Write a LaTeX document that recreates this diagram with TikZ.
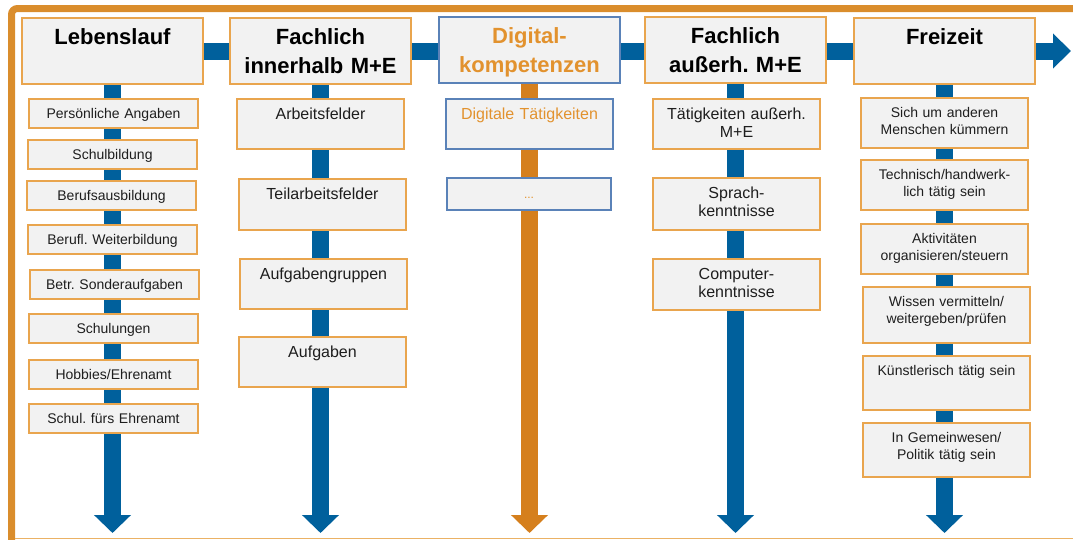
\documentclass[tikz,border=0pt]{standalone}
\usepackage{fontspec}
\setmainfont{Liberation Sans}
\usetikzlibrary{arrows.meta}
\usetikzlibrary{backgrounds}
\definecolor{barblue}{HTML}{00609C}
\definecolor{barorange}{HTML}{D57F1D}
\definecolor{frameorange}{HTML}{DA8D2C}
\definecolor{lineorange}{HTML}{EBB265}
\definecolor{boxorange}{HTML}{E9A54E}
\definecolor{boxgray}{HTML}{F2F2F2}
\definecolor{digblue}{HTML}{5A82B8}
\definecolor{digorange}{HTML}{E2922E}
\definecolor{txtgray}{HTML}{1E1E1E}
\newcommand{\hdfont}{\fontsize{22}{29}\selectfont\bfseries}
\newcommand{\mdfont}{\fontsize{16}{18.5}\selectfont}
\newcommand{\smfont}{\fontsize{14}{17}\selectfont}
\newcommand{\dotfont}{\fontsize{12}{14}\selectfont}
\frenchspacing

\tikzset{
	box/.style n args={3}{draw=boxorange, fill=boxgray, line width=1.2pt, anchor=north west,
		inner sep=0pt, outer sep=0pt, align=center, text=txtgray,
		text width=#1pt, text height=#3pt, text depth=#2pt-#3pt},
	head/.style={box={181}{66}{26}, line width=1.5pt, text=black, font=\hdfont},
	lbox/.style={box={169}{29}{19}, font=\smfont},
	mdbox/.style={box={167}{#1}{20}, font=\mdfont},
	fzbox/.style={box={167}{#1}{19}, font=\smfont},
	digital/.style={draw=digblue, text=digorange},
	hbar/.style={barblue, line width=17pt, -{Triangle[length=18pt,width=34pt]}},
	vbar/.style={barblue, line width=17pt, -{Triangle[length=18pt,width=36pt]}}
}

\begin{document}
\begin{tikzpicture}[x=1pt,y=-1pt]
	\useasboundingbox (0,0) rectangle (1073,539);
	\draw[frameorange, line width=7pt, rounded corners=6pt] (11.5,545) -- (11.5,8.5) -- (1080,8.5);
	\draw[lineorange, line width=1pt] (15,538) -- (1073,538);

	\node[head] (ll) at (22,18) {Lebenslauf};
	\node[head] (fi) at (230,18) {Fachlich\\innerhalb M+E};
	\node[head, digital] (dk) at (439,17) {Digital-\\kompetenzen};
	\node[head] (fa) at (645,17) {Fachlich\\außerh. M+E};
	\node[head] (fz) at (854,18) {Freizeit};

	\node[lbox] (pa) at (29,99) {Persönliche Angaben};
	\node[lbox] (sb) at (28,140) {Schulbildung};
	\node[lbox] (ba) at (27,181) {Berufsausbildung};
	\node[lbox] (bw) at (28,225) {Berufl. Weiterbildung};
	\node[lbox] (bs) at (30,270) {Betr. Sonderaufgaben};
	\node[lbox] (su) at (29,314) {Schulungen};
	\node[lbox] (he) at (29,360) {Hobbies/Ehrenamt};
	\node[lbox] (se) at (29,404) {Schul. fürs Ehrenamt};

	\node[mdbox=50] (af) at (237,99) {Arbeitsfelder};
	\node[mdbox=51] (ta) at (239,179) {Teilarbeitsfelder};
	\node[mdbox=50] (ag) at (240,259) {Aufgabengruppen};
	\node[mdbox=50] (au) at (239,337) {Aufgaben};

	\node[mdbox=50, digital] (dt) at (446,99) {Digitale Tätigkeiten};
	\node[box={164}{32}{20}, digital, font=\dotfont] (dd) at (447,178) {...};

	\node[mdbox=50] (tae) at (653,99) {Tätigkeiten außerh.\\M+E};
	\node[mdbox=52] (sk) at (653,178) {Sprach-\\kenntnisse};
	\node[mdbox=51] (ck) at (653,259) {Computer-\\kenntnisse};

	\node[fzbox=50] (sm) at (861,98) {Sich um anderen\\Menschen kümmern};
	\node[fzbox=50] (th) at (861,160) {Technisch/handwerk-\\lich tätig sein};
	\node[fzbox=50] (ao) at (861,224) {Aktivitäten\\organisieren/steuern};
	\node[fzbox=56] (wv) at (863,287) {Wissen vermitteln/\\weitergeben/prüfen};
	\node[fzbox=54] (kt) at (863,356) {Künstlerisch tätig sein};
	\node[fzbox=54] (ig) at (863,423) {In Gemeinwesen/\\Politik tätig sein};

	\coordinate (hend) at (1071,51);
	\coordinate (vend) at (0,533);
	\begin{scope}[on background layer]
		\draw[hbar] (ll.center) -- (hend);
		\foreach \n in {ll,fi,fa,fz}
			\draw[vbar] (\n.center) -- (\n.center |- vend);
		\draw[vbar, barorange] (dk.center) -- (dk.center |- vend);
	\end{scope}
\end{tikzpicture}
\end{document}
